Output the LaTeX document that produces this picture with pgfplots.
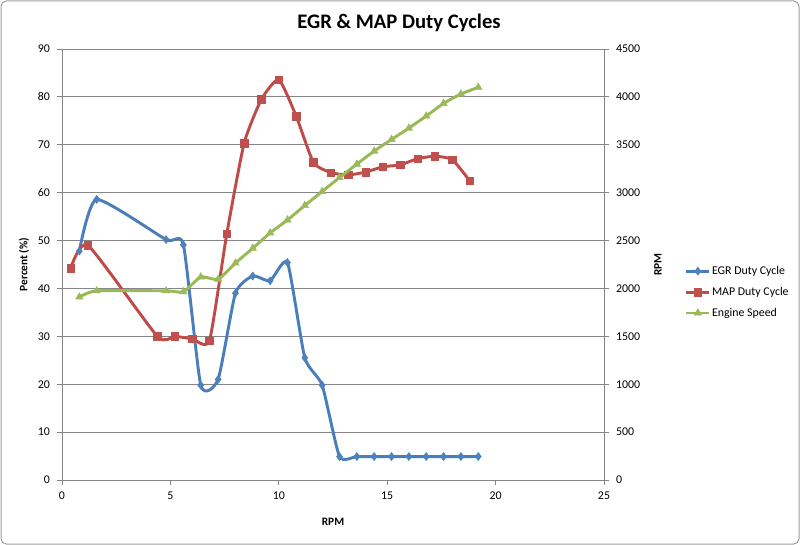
\documentclass[border=0pt]{standalone}
\usepackage{pgfplots}
\usepackage{pgfplotstable}
\pgfplotsset{compat=1.18}
\usepackage{fontspec}
\setmainfont{Carlito}

\definecolor{egr}{RGB}{74,126,187}
\definecolor{egrm}{RGB}{79,129,189}
\definecolor{map}{RGB}{190,75,72}
\definecolor{mapm}{RGB}{192,80,77}
\definecolor{eng}{RGB}{152,185,84}
\definecolor{engm}{RGB}{155,187,89}
\definecolor{gridc}{RGB}{134,134,134}

% EGR duty cycle (%)
\pgfplotstableread{
x y
0.8 47.8
1.6 58.6
4.8 50.2
5.6 49.1
6.4 19.8
7.2 21.0
8.0 39.0
8.8 42.6
9.6 41.6
10.4 45.4
11.2 25.5
12.0 19.8
12.8 4.9
13.6 4.9
14.4 4.9
15.2 4.9
16.0 4.9
16.8 4.9
17.6 4.9
18.4 4.9
19.2 4.9
}\egrdata

% MAP duty cycle (%)
\pgfplotstableread{
x y
0.4 44.2
1.2 49.0
4.4 30.0
5.2 30.0
6.0 29.5
6.8 29.1
7.6 51.4
8.4 70.3
9.2 79.5
10.0 83.6
10.8 76.0
11.6 66.3
12.4 64.2
13.2 63.7
14.0 64.3
14.8 65.4
15.6 65.8
16.4 67.1
17.2 67.6
18.0 66.9
18.8 62.5
}\mapdata

% engine speed (rpm)
\pgfplotstableread{
x y
0.8 1910
1.6 1975
4.8 1975
5.6 1965
6.4 2120
7.2 2095
8.0 2265
8.8 2420
9.6 2580
10.4 2715
11.2 2866
12.0 3012
12.8 3158
13.6 3298
14.4 3434
15.2 3556
16.0 3674
16.8 3800
17.6 3932
18.4 4030
19.2 4100
}\engdata

\pgfplotsset{
  excel/.style={
    scale only axis, width=406.5pt, height=323.25pt,
    at={(46.5pt,-360pt)}, anchor=south west,
    xmin=0, xmax=25,
    axis line style={gridc, line width=0.6pt},
    tick style={gridc, line width=0.6pt},
    tick align=outside, major tick length=3.5pt,
    tick label style={font=\fontsize{8.9}{10.5}\selectfont, text=black},
    /pgf/number format/assume math mode=true,
    /pgf/number format/1000 sep={},
    label style={font=\bfseries\fontsize{8.5}{10}\selectfont},
  },
  egrline/.style={egr, line width=2.2pt, smooth, tension=0.33, mark=diamond*, mark size=3pt,
    mark options={fill=egrm, draw=egrm, line width=0.4pt}},
  mapline/.style={map, line width=2.2pt, smooth, tension=0.33, mark=square*, mark size=2.8pt,
    mark options={fill=mapm, draw=mapm, line width=0.4pt}},
  engline/.style={eng, line width=2.2pt, smooth, tension=0.33, mark=triangle*, mark size=3.2pt,
    mark options={fill=engm, draw=engm, line width=0.4pt}},
}

\begin{document}
\begin{tikzpicture}[x=1pt,y=1pt]
\useasboundingbox (0,0) rectangle (600,-408.75);
\draw[gridc!80, line width=0.75pt, rounded corners=4pt] (0.75,-0.75) rectangle (599.25,-408);
\node[font=\bfseries\fontsize{15.5}{18}\selectfont] at (299.25,-17.25) {EGR \& MAP Duty Cycles};

\begin{axis}[excel,
  axis x line*=bottom, axis y line*=left,
  ymin=0, ymax=90, ytick={0,10,...,90}, xtick={0,5,...,25},
  ymajorgrids, grid style={gridc, line width=0.6pt},
  xticklabel style={yshift=-2pt},
  yticklabel style={xshift=-2pt},
  xlabel={RPM}, ylabel={Percent (\%)},
  xlabel style={at={(axis description cs:0.5,-0.0975)}, anchor=center},
  ylabel style={at={(axis description cs:-0.07,0.5)}, anchor=center},
]
\addplot[egrline] table {\egrdata};
\addplot[mapline] table {\mapdata};
\end{axis}

\begin{axis}[excel,
  axis x line=none, axis y line*=right,
  ymin=0, ymax=4500, ytick={0,500,...,4500},
  yticklabel style={xshift=2pt},
  ylabel={RPM},
  ylabel style={at={(axis description cs:1.0996,0.5)}, anchor=center},
  legend style={at={(axis description cs:1.149,0.436)}, anchor=west,
    draw=none, fill=none, inner sep=0pt, row sep=6pt,
    font=\fontsize{8.9}{10.5}\selectfont,
    nodes={inner sep=1pt}},
  legend cell align=left,
]
\addlegendimage{egrline}\addlegendentry{EGR Duty Cycle}
\addlegendimage{mapline}\addlegendentry{MAP Duty Cycle}
\addplot[engline] table {\engdata};
\addlegendentry{Engine Speed}
\end{axis}
\end{tikzpicture}
\end{document}
